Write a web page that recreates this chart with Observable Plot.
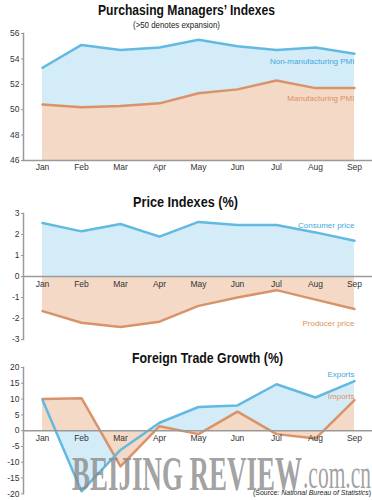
<!DOCTYPE html>
<html>
<head>
<meta charset="utf-8">
<script src="https://cdn.jsdelivr.net/npm/d3@7"></script>
<script src="https://cdn.jsdelivr.net/npm/@observablehq/plot@0.6"></script>
<style>
  html, body { margin: 0; padding: 0; background: #fff; }
  #root { position: relative; width: 372px; height: 500px; overflow: hidden; background: #fff; font-family: "Liberation Sans", sans-serif; }
  .title { position: absolute; font-family: "Liberation Sans", sans-serif; font-weight: bold; font-size: 14.5px; color: #111; white-space: nowrap; transform-origin: 0 0; }
  .sub { position: absolute; font-size: 9px; color: #222; white-space: nowrap; transform-origin: 0 0; }
  .chart { position: absolute; left: 0; }
  .chart svg { overflow: visible; }
  #source { position: absolute; left: 253px; top: 488px; font-size: 8px; color: #222; white-space: nowrap; transform-origin: 0 0; }
  #wm { position: absolute; left: 0; top: 0; pointer-events: none; }
</style>
</head>
<body>
<div id="root">
  <div class="title" data-w="177" style="left:98px; top:2px;">Purchasing Managers’ Indexes</div>
  <div class="sub" data-w="87" style="left:133px; top:20px;">(&gt;50 denotes expansion)</div>
  <div id="c1" class="chart" style="top:28px;"></div>
  <div class="title" data-w="105" style="left:133px; top:194px;">Price Indexes (%)</div>
  <div id="c2" class="chart" style="top:208px;"></div>
  <div class="title" data-w="151" style="left:132px; top:350px;">Foreign Trade Growth (%)</div>
  <div id="c3" class="chart" style="top:362px;"></div>
  <svg id="wm" width="372" height="500">
    <text x="72" y="490" textLength="230" lengthAdjust="spacingAndGlyphs" font-family="Liberation Serif" font-weight="bold" font-size="48" fill="#8a8a8a" fill-opacity="0.8">BEIJING REVIEW</text>
    <text x="303" y="488" textLength="68" lengthAdjust="spacingAndGlyphs" font-family="Liberation Serif" font-size="40" fill="#8a8a8a" fill-opacity="0.8">.com.cn</text>
  </svg>
  <div id="source" data-w="118">(Source: <i>National Bureau of Statistics</i>)</div>
</div>
<script>
const months = ["Jan", "Feb", "Mar", "Apr", "May", "Jun", "Jul", "Aug", "Sep"];

const nonMfgPMI = [53.3, 55.1, 54.7, 54.9, 55.5, 55.0, 54.7, 54.9, 54.4];
const mfgPMI    = [50.4, 50.2, 50.3, 50.5, 51.3, 51.6, 52.3, 51.7, 51.7];
const pmiTicks  = [46, 48, 50, 52, 54, 56];

const cpi = [2.55, 2.15, 2.5, 1.9, 2.6, 2.45, 2.45, 2.1, 1.7];
const ppi = [-1.65, -2.2, -2.4, -2.15, -1.4, -1.0, -0.65, -1.1, -1.55];
const priceTicks = [-3, -2, -1, 0, 1, 2, 3];

const exportsGrowth = [9.7, -19.2, -6.1, 2.5, 7.5, 8.0, 14.7, 10.5, 15.7];
const importsGrowth = [10.0, 10.3, -11.3, 1.4, -1.1, 6.0, -1.1, -2.5, 9.7];
const tradeTicks = [-20, -15, -10, -5, 0, 5, 10, 15, 20];

const seriesLabels = {
  pmi:   [{text: "Non-manufacturing PMI", y: 53.8, c: "blue"}, {text: "Manufacturing PMI", y: 50.9, c: "orange"}],
  price: [{text: "Consumer price", y: 2.42, c: "blue"}, {text: "Producer price", y: -2.25, c: "orange"}],
  trade: [{text: "Exports", y: 17.8, c: "blue"}, {text: "Imports", y: 10.8, c: "orange"}]
};

const BLUE_LINE = "#62b9e2", BLUE_FILL = "#d4ecf8";
const ORANGE_LINE = "#d9936a", ORANGE_FILL = "#f3d9c6";
const AXIS = "#9a9a9a";
const FONT = "Liberation Sans, sans-serif";
const colorOf = c => c === "blue" ? "#3fa9de" : "#e0935c";

function makeChart({a, b, ticks, height, mt, mb, baseline, zeroLabels, labels}) {
  const data = months.map((m, i) => ({month: m, a: a[i], b: b[i]}));
  const marks = [
    Plot.areaY(data, {x: "month", y1: baseline, y2: "a", fill: BLUE_FILL, curve: "linear"}),
    Plot.areaY(data, {x: "month", y1: baseline, y2: "b", fill: ORANGE_FILL, curve: "linear"}),
    Plot.lineY(data, {x: "month", y: "b", stroke: ORANGE_LINE, strokeWidth: 2.5}),
    Plot.lineY(data, {x: "month", y: "a", stroke: BLUE_LINE, strokeWidth: 2.5}),
    Plot.ruleY([baseline], {stroke: AXIS, strokeWidth: 1.5}),
    Plot.frame({anchor: "left", stroke: AXIS, strokeWidth: 1.5}),
    Plot.axisY({ticks: ticks, tickSize: 2, tickPadding: 2, tickFormat: d => String(d), fontSize: 8.5, stroke: AXIS, color: "#333", label: null}),
    Plot.text(labels, {x: () => months[months.length - 1], y: "y", text: "text", textAnchor: "end", fill: d => colorOf(d.c), fontSize: 8, fontFamily: FONT})
  ];
  if (zeroLabels) {
    marks.push(Plot.text(months, {x: d => d, y: () => baseline, dy: 8, text: d => d, fontSize: 8.5, fill: "#333", fontFamily: FONT}));
    marks.push(Plot.axisX({ticks: [], label: null}));
  } else {
    marks.push(Plot.axisX({tickSize: 0, tickPadding: 3, fontSize: 8.5, color: "#333", label: null}));
  }
  return Plot.plot({
    width: 372,
    height,
    marginTop: mt,
    marginBottom: mb,
    marginLeft: 23,
    marginRight: 0,
    style: {fontFamily: FONT, fontSize: "8.5px", background: "transparent", overflow: "visible"},
    x: {type: "point", domain: months, range: [40, 356], padding: 0},
    y: {domain: [ticks[0], ticks[ticks.length - 1]]},
    marks
  });
}

document.getElementById("c1").appendChild(makeChart({
  a: nonMfgPMI, b: mfgPMI, ticks: pmiTicks, height: 150, mt: 5, mb: 18,
  baseline: pmiTicks[0], zeroLabels: false, labels: seriesLabels.pmi
}));
document.getElementById("c2").appendChild(makeChart({
  a: cpi, b: ppi, ticks: priceTicks, height: 136, mt: 5, mb: 5,
  baseline: 0, zeroLabels: true, labels: seriesLabels.price
}));
document.getElementById("c3").appendChild(makeChart({
  a: exportsGrowth, b: importsGrowth, ticks: tradeTicks, height: 138, mt: 5, mb: 6.7,
  baseline: 0, zeroLabels: true, labels: seriesLabels.trade
}));

// condense text blocks horizontally to the widths seen in the reference
document.querySelectorAll("[data-w]").forEach(el => {
  const w = el.getBoundingClientRect().width;
  const target = +el.dataset.w;
  if (w > 0) el.style.transform = `scaleX(${target / w})`;
});
</script>
</body>
</html>
